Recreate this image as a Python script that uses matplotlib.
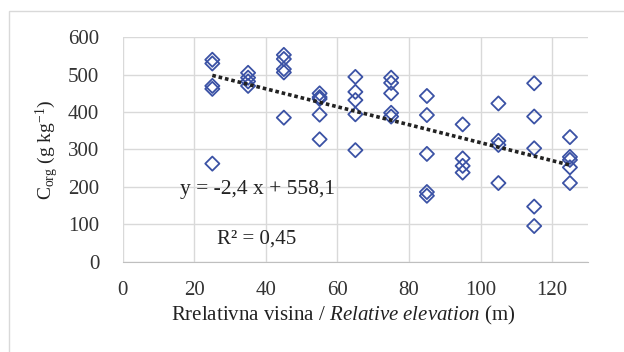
import matplotlib
matplotlib.use("Agg")
import matplotlib.pyplot as plt
from matplotlib.patches import Rectangle
import numpy as np

# relative elevation (m) and organic carbon (g/kg)
elevation = [25, 25, 25, 25, 25,
             35, 35, 35, 35,
             45, 45, 45, 45, 45,
             55, 55, 55, 55, 55,
             65, 65, 65, 65, 65,
             75, 75, 75, 75, 75,
             85, 85, 85, 85, 85,
             95, 95, 95, 95,
             105, 105, 105, 105,
             115, 115, 115, 115, 115,
             125, 125, 125, 125, 125]
c_org = [540, 530, 470, 462, 262,
         505, 492, 482, 470,
         553, 542, 515, 506, 385,
         450, 440, 435, 393, 327,
         494, 454, 432, 394, 298,
         492, 478, 450, 398, 388,
         443, 392, 288, 186, 176,
         367, 276, 256, 238,
         423, 323, 312, 210,
         477, 388, 303, 147, 95,
         333, 280, 272, 252, 210]

# trend line as printed on the chart
slope = -2.4
intercept = 558.1
r2 = 0.45
x_ticks = [0, 20, 40, 60, 80, 100, 120]
y_ticks = [0, 100, 200, 300, 400, 500, 600]

plt.rcParams["font.family"] = "Liberation Serif"
plt.rcParams["mathtext.fontset"] = "custom"
plt.rcParams["mathtext.rm"] = "Liberation Serif"
plt.rcParams["mathtext.it"] = "Liberation Serif:italic"

fig = plt.figure(figsize=(6.24, 3.52), dpi=100)
ax = fig.add_axes([0.197, 0.257, 0.745, 0.637])

# outer chart border (cropped at right and bottom)
fig.patches.append(Rectangle((9 / 624, -0.1), 2, 1 - 11 / 352 + 0.1,
                             transform=fig.transFigure, fill=False,
                             edgecolor="#d9d9d9", linewidth=1))

ax.scatter(elevation, c_org, marker="D", s=52, facecolors="none",
           edgecolors="#3b52a5", linewidths=1.3, zorder=3)

xt = np.array([min(elevation), max(elevation)])
ax.plot(xt, slope * xt + intercept, color="#222222", linestyle=(0, (1, 0.8)),
        linewidth=2.6, zorder=4)

ax.text(37.5, 192, "y = %s x + %s" % (str(slope).replace(".", ","),
                                       str(intercept).replace(".", ",")),
        ha="center", va="center", fontsize=15.5, color="#222222")
ax.text(37.5, 60, "R² = %s" % str(r2).replace(".", ","),
        ha="center", va="center", fontsize=15, color="#222222")

ax.set_xlim(0, 130)
ax.set_ylim(0, 600)
ax.set_xticks(x_ticks)
ax.set_yticks(y_ticks)
ax.grid(True, color="#d9d9d9", linewidth=1)
ax.set_axisbelow(True)
for s in ["top", "right", "left"]:
    ax.spines[s].set_visible(False)
ax.spines["bottom"].set_color("#bfbfbf")
ax.tick_params(length=0, labelsize=15, colors="#333333")
ax.tick_params(axis="x", pad=14)
ax.tick_params(axis="y", pad=17)

ax.set_xlabel(r"Rrelativna visina / $\mathit{Relative\ elevation}$ (m)",
              fontsize=15, color="#222222")
ax.xaxis.set_label_coords(0.473, -0.19)
ax.set_ylabel(r"C$_{\rm org}$ (g kg$^{-1}$)", fontsize=14, color="#222222")
ax.yaxis.set_label_coords(-0.133, 0.5)

fig.savefig("out.png", dpi=100)
